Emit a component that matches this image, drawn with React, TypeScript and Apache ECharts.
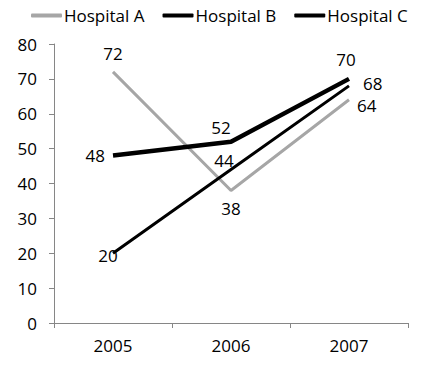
import React, { useEffect, useRef } from "react";
import * as echarts from "echarts";

const categories = ["2005", "2006", "2007"];
const hospitalA = [72, 38, 64];
const hospitalB = [20, 44, 68];
const hospitalC = [48, 52, 70];
const yTicks = { min: 0, max: 80, interval: 10 };

const FONT = "Open Sans";
const FS = 17;

type LabelCfg = { position: string; distance?: number; offset?: [number, number] };

function withLabels(values: number[], cfg: LabelCfg[]) {
  return values.map((v, i) => ({
    value: v,
    label: {
      position: cfg[i].position,
      distance: cfg[i].distance ?? 5,
      offset: cfg[i].offset ?? [0, 0],
    },
  }));
}

export default function App() {
  const ref = useRef<HTMLDivElement>(null);
  useEffect(() => {
    if (!ref.current) return;
    const chart = echarts.init(ref.current, null, { renderer: "svg" });
    const labelBase = {
      show: true,
      color: "#000",
      fontFamily: FONT,
      fontSize: FS,
    };
    chart.setOption({
      animation: false,
      textStyle: { fontFamily: FONT },
      legend: {
        top: 2,
        left: 26,
        itemWidth: 31,
        itemHeight: 4,
        itemGap: 18,
        icon: "roundRect",
        textStyle: { fontFamily: FONT, fontSize: FS, color: "#000", padding: [0, 0, 0, -3] },
        data: ["Hospital A", "Hospital B", "Hospital C"],
      },
      grid: { left: 54, right: 23, top: 44, bottom: 45 },
      xAxis: {
        type: "category",
        data: categories,
        boundaryGap: true,
        axisLine: { lineStyle: { color: "#868686", width: 1 } },
        axisTick: { show: true, length: 5, lineStyle: { color: "#868686" } },
        axisLabel: { color: "#000", fontFamily: FONT, fontSize: FS, margin: 14 },
        splitLine: { show: false },
      },
      yAxis: {
        type: "value",
        min: yTicks.min,
        max: yTicks.max,
        interval: yTicks.interval,
        axisLine: { show: true, lineStyle: { color: "#868686", width: 1 } },
        axisTick: { show: true, length: 5, lineStyle: { color: "#868686" } },
        axisLabel: { color: "#000", fontFamily: FONT, fontSize: FS, margin: 17 },
        splitLine: { show: false },
      },
      series: [
        {
          name: "Hospital A",
          type: "line",
          symbol: "circle",
          symbolSize: 0.01,
          showSymbol: true,
          lineStyle: { color: "#a6a6a6", width: 3 },
          itemStyle: { color: "#a6a6a6" },
          label: labelBase,
          data: withLabels(hospitalA, [
            { position: "top", distance: 10 },
            { position: "bottom", distance: 10 },
            { position: "right", distance: 8, offset: [0, 6] },
          ]),
        },
        {
          name: "Hospital B",
          type: "line",
          symbol: "circle",
          symbolSize: 0.01,
          showSymbol: true,
          lineStyle: { color: "#000", width: 3 },
          itemStyle: { color: "#000" },
          label: labelBase,
          data: withLabels(hospitalB, [
            { position: "inside", offset: [-5, 2] },
            { position: "top", distance: 1, offset: [-7, 0] },
            { position: "right", distance: 14, offset: [0, -2] },
          ]),
        },
        {
          name: "Hospital C",
          type: "line",
          symbol: "circle",
          symbolSize: 0.01,
          showSymbol: true,
          lineStyle: { color: "#000", width: 4.5 },
          itemStyle: { color: "#000" },
          label: labelBase,
          data: withLabels(hospitalC, [
            { position: "left", distance: 8 },
            { position: "top", distance: 6, offset: [-10, 0] },
            { position: "top", distance: 11, offset: [-3, 0] },
          ]),
        },
      ],
    });
    return () => chart.dispose();
  }, []);
  return <div ref={ref} style={{ width: 431, height: 368, margin: -8 }} />;
}
